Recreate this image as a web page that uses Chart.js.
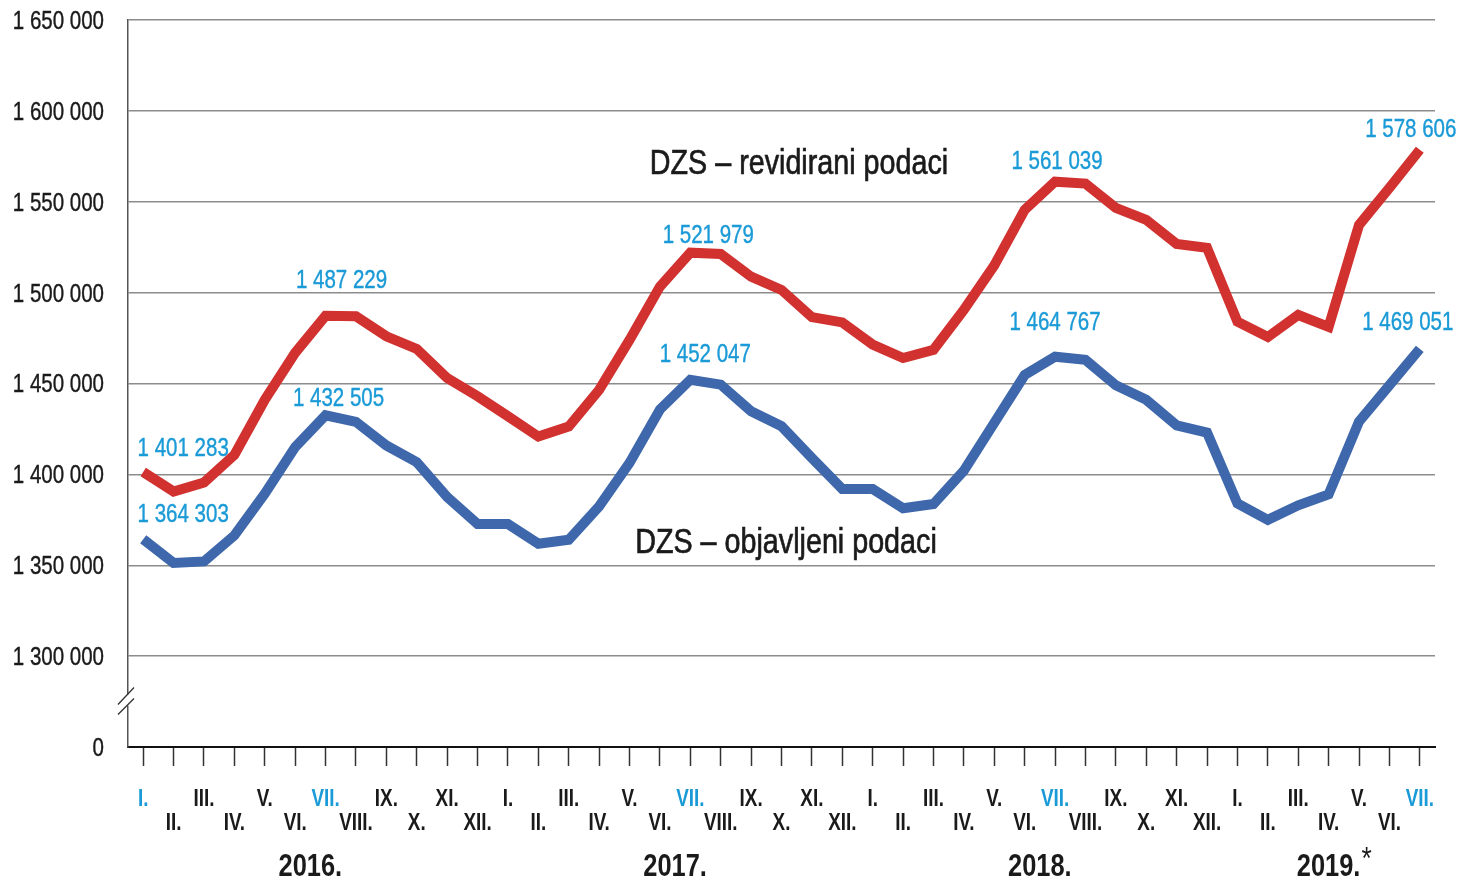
<!DOCTYPE html>
<html>
<head>
<meta charset="utf-8">
<title>Zaposleni - DZS</title>
<script src="https://cdn.jsdelivr.net/npm/chart.js@4.4.1/dist/chart.umd.min.js"></script>
<style>
html, body { margin: 0; padding: 0; background: #fff; }
#wrap { width: 1458px; height: 879px; position: relative; }
</style>
</head>
<body>
<div id="wrap"><canvas id="zaposleni"></canvas></div>
<script>
// mjeseci od I. 2016. do VII. 2019.
var months = [
  "I.", "II.", "III.", "IV.", "V.", "VI.", "VII.", "VIII.", "IX.", "X.", "XI.", "XII.",
  "I.", "II.", "III.", "IV.", "V.", "VI.", "VII.", "VIII.", "IX.", "X.", "XI.", "XII.",
  "I.", "II.", "III.", "IV.", "V.", "VI.", "VII.", "VIII.", "IX.", "X.", "XI.", "XII.",
  "I.", "II.", "III.", "IV.", "V.", "VI.", "VII."
];
var years = ["2016.", "2017.", "2018.", "2019.*"];

var revidirani = [
  1401283, 1390600, 1395500, 1410700, 1441000, 1466900, 1487229, 1487000, 1476000, 1469000, 1453000, 1443000,
  1432000, 1420800, 1426300, 1446500, 1474000, 1503300, 1521979, 1521300, 1508800, 1501500, 1486500, 1483600,
  1471400, 1464000, 1468500, 1490500, 1515000, 1545500, 1561039, 1560000, 1546600, 1540000, 1526800, 1524600,
  1484000, 1475600, 1487700, 1481200, 1537200, 1557600, 1578606
];
var objavljeni = [
  1364303, 1351300, 1352100, 1366400, 1389400, 1415000, 1432505, 1428900, 1415900, 1406700, 1387500, 1372700,
  1372700, 1361800, 1364000, 1382400, 1406300, 1435700, 1452047, 1449400, 1434700, 1426500, 1409000, 1391900,
  1391900, 1381400, 1383700, 1402000, 1428300, 1454700, 1464767, 1463000, 1449000, 1441000, 1427000, 1423000,
  1384000, 1375000, 1383000, 1389000, 1429000, 1449000, 1469051
];
var seriesNames = ["DZS \u2013 revidirani podaci", "DZS \u2013 objavljeni podaci"];
// mjeseci s oznakom vrijednosti
var labeled = [0, 6, 18, 30, 42];

// os je prekinuta: 1 250 000 se crta kao 0
var yMin = 1250000, yMax = 1650000, yStep = 50000;

var FONT = "'Liberation Sans', Arial, sans-serif";
var NARROW = 0.82; // sirina kao Arial Narrow
var BLUE_TXT = "#1a9ad6";
var DARK = "#1a1a1a";

function fmt(v) {
  return String(Math.round(v)).replace(/\B(?=(\d{3})+(?!\d))/g, " ");
}

function text(ctx, str, x, y, font, color, align, heavy) {
  ctx.save();
  ctx.translate(x, y + 2);
  ctx.scale(NARROW, 1);
  ctx.font = font;
  ctx.fillStyle = color;
  ctx.textAlign = align || "center";
  ctx.textBaseline = "middle";
  ctx.fillText(str, 0, 0);
  if (heavy) {
    ctx.strokeStyle = color;
    ctx.lineWidth = heavy;
    ctx.strokeText(str, 0, 0);
  }
  var w = ctx.measureText(str).width * NARROW;
  ctx.restore();
  return w;
}

// pomaci oznaka od tocke [dx, dy]
var labelPos = [
  { 0: [40, -25], 6: [16, -37], 18: [18, -19], 30: [2, -22], 42: [-9, -22] },
  { 0: [40, -26], 6: [13, -18], 18: [15, -27], 30: [0, -36], 42: [-12, -28] }
];

var extras = {
  id: "extras",
  afterDatasetsDraw: function (chart) {
    var ctx = chart.ctx, ca = chart.chartArea;
    chart.data.datasets.forEach(function (ds, d) {
      var meta = chart.getDatasetMeta(d);
      labeled.forEach(function (i) {
        var p = meta.data[i], o = labelPos[d][i];
        text(ctx, fmt(ds.data[i]), p.x + o[0], p.y + o[1], "25px " + FONT, BLUE_TXT, "center", 0.4);
      });
    });
    text(ctx, seriesNames[0], ca.left + 671, ca.top + 142, "35px " + FONT, DARK, "center", 0.7);
    text(ctx, seriesNames[1], ca.left + 658, ca.top + 521, "35px " + FONT, DARK, "center", 0.7);
  },
  afterDraw: function (chart) {
    var ctx = chart.ctx, x = chart.scales.x, y = chart.scales.y, ca = chart.chartArea;
    // oznake osi y
    y.ticks.forEach(function (t) {
      var lbl = t.value === yMin ? "0" : fmt(t.value);
      text(ctx, lbl, ca.left - 24, y.getPixelForValue(t.value), "25px " + FONT, DARK, "right", 0.4);
    });
    // mjeseci u dva reda
    months.forEach(function (m, i) {
      var col = labeled.indexOf(i) >= 0 ? BLUE_TXT : DARK;
      var dy = i % 2 === 0 ? 51 : 75;
      text(ctx, m, x.getPixelForValue(i), ca.bottom + dy, "bold 23px " + FONT, col);
    });
    // godine
    years.forEach(function (yr, k) {
      var a = k * 12, b = Math.min(a + 11, months.length - 1);
      var cx = (x.getPixelForValue(a) + x.getPixelForValue(b)) / 2;
      var parts = yr.split("*");
      var w = text(ctx, parts[0], cx, ca.bottom + 118, "bold 31px " + FONT, DARK);
      if (yr.indexOf("*") >= 0) {
        text(ctx, "*", cx + w / 2 + 1, ca.bottom + 111, "32px " + FONT, DARK, "left");
      }
    });
    // prekid osi
    ctx.save();
    var by = y.getPixelForValue((yMin + yMin + yStep) / 2);
    var ax = ca.left;
    ctx.fillStyle = "#fff";
    ctx.fillRect(ax - 2, by - 7, 4, 11);
    ctx.strokeStyle = "#333";
    ctx.lineWidth = 1.3;
    ctx.beginPath();
    ctx.moveTo(ax - 10, by + 3); ctx.lineTo(ax + 6, by - 14);
    ctx.moveTo(ax - 10, by + 13); ctx.lineTo(ax + 6, by - 3);
    ctx.stroke();
    ctx.restore();
  }
};

new Chart("zaposleni", {
  type: "line",
  data: {
    labels: months,
    datasets: [{
      label: seriesNames[0],
      data: revidirani,
      borderColor: "#d1312f",
      borderWidth: 10,
      pointRadius: 0,
      tension: 0,
      borderJoinStyle: "miter",
      borderCapStyle: "butt"
    }, {
      label: seriesNames[1],
      data: objavljeni,
      borderColor: "#3e68ab",
      borderWidth: 10,
      pointRadius: 0,
      tension: 0,
      borderJoinStyle: "miter",
      borderCapStyle: "butt"
    }]
  },
  options: {
    responsive: true,
    maintainAspectRatio: false,
    animation: false,
    layout: { padding: { top: 20, right: 23, left: 0, bottom: 0 } },
    plugins: { legend: { display: false }, tooltip: { enabled: false } },
    scales: {
      x: {
        type: "category",
        offset: true,
        afterFit: function (s) { s.height = 132; },
        border: { display: true, color: "#111", width: 2 },
        grid: {
          offset: false,
          drawOnChartArea: false,
          drawTicks: true,
          tickLength: 19,
          tickColor: "#333",
          tickWidth: 1.5
        },
        ticks: { display: false, autoSkip: false, maxRotation: 0 }
      },
      y: {
        min: yMin,
        max: yMax,
        afterFit: function (s) { s.width = 128; },
        border: { display: true, color: "#555", width: 1.5 },
        grid: {
          drawTicks: false,
          lineWidth: 1.5,
          color: function (c) { return c.tick && c.tick.value === yMin ? "rgba(0,0,0,0)" : "#8c8c8c"; }
        },
        ticks: { display: false, stepSize: yStep }
      }
    }
  },
  plugins: [extras]
});
</script>
</body>
</html>
